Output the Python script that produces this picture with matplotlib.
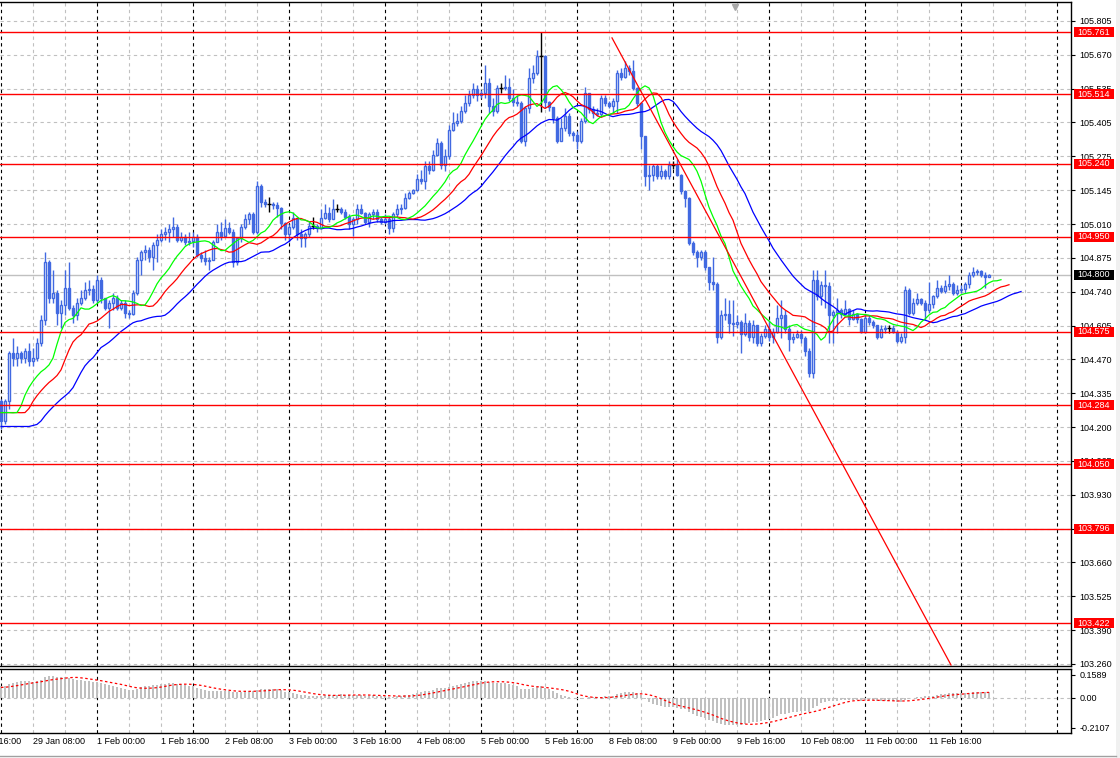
import numpy as np
import pandas as pd
import matplotlib
matplotlib.use('Agg')
import matplotlib.pyplot as plt
import matplotlib.transforms as mtransforms
from matplotlib.patches import Rectangle

plt.rcParams['font.family'] = ['Liberation Sans', 'DejaVu Sans']

# USDJPY H1, 29 Jan 00:00 - 12 Feb 07:00 (bar = 1 hour, weekend skipped)
first_open = 104.30
closes = [
    104.22, 104.30, 104.49, 104.47, 104.49, 104.47, 104.50, 104.46, 104.47, 104.53,
    104.62, 104.85, 104.71, 104.73, 104.65, 104.68, 104.75, 104.67, 104.64, 104.69,
    104.71, 104.74, 104.745, 104.70, 104.78, 104.71, 104.67, 104.69, 104.71, 104.67,
    104.69, 104.65, 104.645, 104.73, 104.86, 104.89, 104.90, 104.87, 104.92, 104.94,
    104.96, 104.97, 104.98, 104.99, 104.94, 104.95, 104.93, 104.935, 104.95, 104.88,
    104.865, 104.855, 104.86, 104.93, 104.97, 104.955, 104.985, 104.97, 104.85, 104.945,
    104.99, 105.02, 105.04, 104.97, 105.15, 105.09, 105.08, 105.08, 105.075, 105.065,
    105.005, 104.96, 104.99, 105.025, 104.96, 104.945, 104.96, 104.995, 104.995, 104.985,
    105.025, 105.045, 105.02, 105.06, 105.06, 105.05, 105.03, 105.00, 105.02, 105.06,
    105.045, 105.01, 105.04, 105.05, 105.02, 105.01, 105.02, 104.985, 105.04, 105.06,
    105.065, 105.105, 105.125, 105.135, 105.18, 105.17, 105.23, 105.215, 105.275, 105.32,
    105.235, 105.27, 105.375, 105.40, 105.41, 105.45, 105.48, 105.51, 105.535, 105.51,
    105.52, 105.56, 105.47, 105.45, 105.54, 105.54, 105.545, 105.50, 105.485, 105.48,
    105.33, 105.46, 105.58, 105.60, 105.665, 105.665, 105.485, 105.465, 105.42, 105.33,
    105.38, 105.43, 105.36, 105.355, 105.33, 105.41, 105.52, 105.455, 105.44, 105.435,
    105.50, 105.48, 105.47, 105.49, 105.60, 105.585, 105.62, 105.605, 105.54, 105.48,
    105.35, 105.19, 105.195, 105.23, 105.19, 105.21, 105.19, 105.235, 105.235, 105.195,
    105.13, 105.105, 104.925, 104.89, 104.87, 104.89, 104.83, 104.77, 104.765, 104.555,
    104.64, 104.645, 104.61, 104.605, 104.615, 104.565, 104.61, 104.555, 104.60, 104.53,
    104.56, 104.585, 104.555, 104.575, 104.63, 104.64, 104.585, 104.545, 104.555, 104.565,
    104.55, 104.50, 104.41, 104.78, 104.715, 104.76, 104.755, 104.64, 104.655, 104.66,
    104.645, 104.665, 104.625, 104.645, 104.625, 104.575, 104.63, 104.615, 104.60, 104.555,
    104.585, 104.59, 104.59, 104.575, 104.54, 104.555, 104.74, 104.65, 104.69, 104.705,
    104.69, 104.66, 104.685, 104.715, 104.75, 104.735, 104.755, 104.765, 104.73, 104.74,
    104.745, 104.765, 104.80, 104.81, 104.815, 104.80, 104.79, 104.80,
]
highs = [
    104.31, 104.31, 104.50, 104.55, 104.52, 104.50, 104.51, 104.53, 104.51, 104.55,
    104.64, 104.89, 104.86, 104.82, 104.74, 104.70, 104.82, 104.85, 104.68, 104.71,
    104.74, 104.77, 104.78, 104.76, 104.80, 104.79, 104.71, 104.70, 104.73, 104.72,
    104.70, 104.70, 104.66, 104.74, 104.87, 104.90, 104.92, 104.91, 104.93, 104.96,
    104.98, 104.99, 105.00, 105.03, 105.00, 104.97, 104.96, 104.97, 104.97, 104.96,
    104.89, 104.90, 104.87, 104.94, 105.00, 105.01, 105.02, 105.01, 104.98, 104.95,
    105.00, 105.04, 105.05, 105.05, 105.17, 105.16, 105.10, 105.11, 105.09, 105.09,
    105.07, 105.01, 105.00, 105.05, 105.03, 104.98, 104.97, 105.01, 105.03, 105.00,
    105.06, 105.08, 105.07, 105.10, 105.08, 105.07, 105.06, 105.04, 105.03, 105.08,
    105.08, 105.05, 105.05, 105.06, 105.06, 105.03, 105.04, 105.03, 105.05, 105.08,
    105.08, 105.125, 105.13, 105.14, 105.20, 105.215, 105.25, 105.25, 105.295, 105.34,
    105.33, 105.30, 105.395, 105.445, 105.44, 105.47, 105.51, 105.53, 105.56, 105.55,
    105.53, 105.63, 105.58, 105.50, 105.55, 105.56, 105.59, 105.58, 105.535, 105.51,
    105.49, 105.47, 105.62, 105.63, 105.69, 105.761, 105.67, 105.49, 105.46, 105.43,
    105.42, 105.46, 105.44, 105.37, 105.37, 105.42, 105.545, 105.52, 105.47, 105.46,
    105.51, 105.51, 105.49, 105.50, 105.61, 105.62, 105.645, 105.63, 105.65, 105.545,
    105.47, 105.35, 105.235, 105.24, 105.24, 105.235, 105.22, 105.25, 105.25, 105.26,
    105.20, 105.135, 105.11, 104.935, 104.90, 104.90, 104.90, 104.83, 104.87, 104.77,
    104.66, 104.71, 104.70, 104.70, 104.64, 104.62, 104.65, 104.62, 104.62, 104.60,
    104.57, 104.60, 104.62, 104.59, 104.68, 104.70, 104.66, 104.60, 104.57, 104.58,
    104.58, 104.56, 104.51, 104.82, 104.82, 104.775, 104.82, 104.77, 104.66, 104.71,
    104.67, 104.70, 104.67, 104.66, 104.65, 104.63, 104.64, 104.64, 104.62, 104.60,
    104.60, 104.60, 104.60, 104.60, 104.58, 104.57, 104.755, 104.75, 104.71, 104.73,
    104.71, 104.70, 104.77, 104.72, 104.78, 104.76, 104.78, 104.80, 104.77, 104.76,
    104.76, 104.77, 104.81, 104.83, 104.825, 104.82, 104.81, 104.805,
]
lows = [
    104.19, 104.21, 104.27, 104.44, 104.44, 104.45, 104.45, 104.44, 104.44, 104.46,
    104.52, 104.60, 104.69, 104.69, 104.60, 104.59, 104.64, 104.66, 104.61, 104.62,
    104.68, 104.70, 104.72, 104.69, 104.69, 104.69, 104.66, 104.59, 104.66, 104.66,
    104.66, 104.63, 104.63, 104.64, 104.72, 104.80, 104.86, 104.85, 104.82, 104.85,
    104.93, 104.94, 104.93, 104.95, 104.93, 104.93, 104.92, 104.92, 104.91, 104.87,
    104.85, 104.84, 104.82, 104.86, 104.93, 104.94, 104.95, 104.96, 104.83, 104.84,
    104.93, 104.98, 105.00, 104.96, 104.96, 105.07, 105.07, 105.05, 105.06, 105.03,
    104.98, 104.94, 104.93, 104.98, 104.94, 104.91, 104.91, 104.95, 104.98, 104.97,
    104.98, 105.02, 105.01, 105.02, 105.05, 105.04, 105.02, 104.98, 104.955, 105.00,
    105.04, 105.00, 104.99, 105.02, 105.01, 105.00, 105.00, 104.96, 104.97, 105.03,
    105.04, 105.06, 105.10, 105.12, 105.13, 105.16, 105.14, 105.20, 105.21, 105.27,
    105.22, 105.21, 105.26, 105.37, 105.39, 105.40, 105.44, 105.47, 105.50, 105.49,
    105.50, 105.50, 105.44, 105.43, 105.44, 105.52, 105.53, 105.49, 105.47, 105.47,
    105.32, 105.31, 105.44, 105.56, 105.59, 105.445, 105.46, 105.45, 105.40, 105.32,
    105.33, 105.37, 105.35, 105.33, 105.30, 105.32, 105.40, 105.44, 105.42, 105.43,
    105.43, 105.47, 105.46, 105.44, 105.44, 105.57, 105.58, 105.59, 105.53, 105.47,
    105.30, 105.15, 105.135, 105.17, 105.18, 105.18, 105.18, 105.18, 105.22, 105.19,
    105.12, 105.07, 104.92, 104.88, 104.83, 104.86, 104.82, 104.74, 104.74, 104.53,
    104.545, 104.62, 104.57, 104.56, 104.59, 104.49, 104.56, 104.54, 104.53, 104.52,
    104.52, 104.55, 104.54, 104.53, 104.57, 104.55, 104.57, 104.50, 104.53, 104.55,
    104.53, 104.48, 104.395, 104.39, 104.70, 104.68, 104.67, 104.53, 104.53, 104.57,
    104.63, 104.64, 104.60, 104.62, 104.61, 104.57, 104.57, 104.60, 104.59, 104.545,
    104.55, 104.57, 104.57, 104.57, 104.53, 104.53, 104.53, 104.64, 104.64, 104.68,
    104.68, 104.62, 104.65, 104.67, 104.71, 104.73, 104.73, 104.74, 104.72, 104.72,
    104.73, 104.73, 104.75, 104.79, 104.80, 104.79, 104.75, 104.795,
]

levels = [105.761, 105.514, 105.240, 104.950, 104.575, 104.284, 104.050, 103.796, 103.422]
bid = 104.800

price_ticks = ['105.805', '105.670', '105.535', '105.405', '105.275', '105.145', '105.010',
               '104.875', '104.740', '104.605', '104.470', '104.335', '104.200', '104.065',
               '103.930', '103.795', '103.660', '103.525', '103.390', '103.260']
osc_ticks = [0.1589, 0.0, -0.2107]
osc_tick_labels = ['0.1589', '0.00', '-0.2107']

time_labels = ['28 Jan 16:00', '29 Jan 08:00', '1 Feb 00:00', '1 Feb 16:00', '2 Feb 08:00',
               '3 Feb 00:00', '3 Feb 16:00', '4 Feb 08:00', '5 Feb 00:00', '5 Feb 16:00',
               '8 Feb 08:00', '9 Feb 00:00', '9 Feb 16:00', '10 Feb 08:00', '11 Feb 00:00',
               '11 Feb 16:00']

# trend line anchors (bar index, price)
trend_x = [152.75, 237.5]
trend_y = [105.738, 103.256]

# alligator: period, shift, value before first visible bar
jaw = (13, 8, 104.200)
teeth = (8, 5, 104.255)
lips = (5, 3, 104.255)
# MACD 12/26/9 state before first bar
ema_fast_seed, ema_slow_seed, signal_seed = 104.23, 104.14, 0.07

closes = np.array(closes)
highs = np.array(highs)
lows = np.array(lows)
n = len(closes)
x = np.arange(n)
opens = np.r_[first_open, closes[:-1]]
highs = np.maximum(highs, np.maximum(opens, closes))
lows = np.minimum(lows, np.minimum(opens, closes))
median = (highs + lows) / 2


def smma(vals, period, seed):
    out = []
    s = seed
    for v in vals:
        s = (s * (period - 1) + v) / period
        out.append(s)
    return np.array(out)


def ema(vals, period, seed):
    a = 2.0 / (period + 1)
    out = []
    s = seed
    for v in vals:
        s = s + a * (v - s)
        out.append(s)
    return np.array(out)


macd = ema(closes, 12, ema_fast_seed) - ema(closes, 26, ema_slow_seed)
signal = pd.Series(np.r_[[signal_seed] * 8, macd]).rolling(9).mean().values[8:]

W, H = 1120, 758
BLUE = '#4169e1'
GRID = '#c0c0c0'


def px_rect(x0, y0, x1, y1):
    return [x0 / W, 1 - y1 / H, (x1 - x0) / W, (y1 - y0) / H]


fig = plt.figure(figsize=(W / 100, H / 100), dpi=100)
fig.patch.set_facecolor('white')
ax = fig.add_axes(px_rect(0, 2, 1071, 666))
axo = fig.add_axes(px_rect(0, 669, 1071, 733))

for a in (ax, axo):
    a.set_xlim(-0.25, 267.5)
    a.spines['left'].set_visible(False)
    for s in ('top', 'bottom', 'right'):
        a.spines[s].set_linewidth(1.0)
        a.spines[s].set_color('black')
    a.tick_params(axis='x', bottom=False, labelbottom=False)
    a.yaxis.tick_right()
    a.tick_params(axis='y', direction='out', length=3, width=0.8, pad=3, labelsize=6.5,
                  colors='black')
    # grid every 8 bars, day separators every 24 bars
    for g in range(8, 265, 8):
        if g % 24:
            a.axvline(g, color=GRID, lw=0.8, ls=(0, (3, 3)), zorder=0.5)
    for g in range(0, 265, 24):
        a.axvline(g, color='black', lw=0.8, ls=(0, (3, 3)), zorder=0.6)

ax.set_ylim(103.252, 105.880)
yt = np.linspace(105.805, 103.260, len(price_ticks))
ax.set_yticks(yt)
ax.set_yticklabels(price_ticks)
for t in yt:
    ax.axhline(t, color=GRID, lw=0.8, ls=(0, (3, 3)), zorder=0.5)

# candles
up = closes > opens + 1e-9
dn = closes < opens - 1e-9
dj = ~(up | dn)
ax.vlines(x[~dj], lows[~dj], highs[~dj], color=BLUE, lw=1.0, zorder=3)
ax.bar(x[up], (closes - opens)[up], bottom=opens[up], width=0.7, facecolor='white',
       edgecolor=BLUE, linewidth=1.0, zorder=4)
ax.bar(x[dn], (closes - opens)[dn], bottom=opens[dn], width=0.7, facecolor=BLUE,
       edgecolor=BLUE, linewidth=1.0, zorder=4)
ax.vlines(x[dj], lows[dj], highs[dj], color='black', lw=1.0, zorder=4)
ax.hlines(closes[dj], x[dj] - 0.45, x[dj] + 0.45, color='black', lw=1.0, zorder=4)

# alligator
for (period, shift, seed), col in ((jaw, '#0000ff'), (teeth, '#ff0000'), (lips, '#00ff00')):
    vals = np.r_[[seed] * shift, smma(median, period, seed)]
    ax.plot(np.arange(len(vals)), vals, color=col, lw=0.9, zorder=5)

# bid line, levels, trend line
ax.axhline(bid, color='#c0c0c0', lw=1.0, zorder=1)
for lv in levels:
    ax.axhline(lv, color='#ff0000', lw=1.0, zorder=6)
ax.plot(trend_x, trend_y, color='#ff0000', lw=0.9, zorder=6)

# price labels on the axis
bt = mtransforms.blended_transform_factory(ax.transAxes, ax.transData)
bw = 40 / 1071
bh = 10 / 252.66
for lv, fc in [(v, '#ff0000') for v in levels] + [(bid, 'black')]:
    ax.add_patch(Rectangle((1074 / 1071, lv - bh / 2), bw, bh, transform=bt,
                           facecolor=fc, edgecolor='none', clip_on=False, zorder=7))
    ax.text(1074 / 1071 + bw / 2, lv, '%.3f' % lv, transform=bt, color='white',
            fontsize=6.5, ha='center', va='center', clip_on=False, zorder=8)

# chart shift marker
ax.plot([183.5], [0.992], marker='v', ms=4, color='#a8a8a8',
        transform=mtransforms.blended_transform_factory(ax.transData, ax.transAxes),
        clip_on=False, zorder=8)

# MACD window
axo.set_ylim(-0.2494, 0.2011)
axo.set_yticks(osc_ticks)
axo.set_yticklabels(osc_tick_labels)
axo.axhline(0, color=GRID, lw=0.8, ls=(0, (3, 3)), zorder=0.5)
axo.bar(x, macd, width=0.35, color='#c0c0c0', zorder=2)
axo.plot(x, signal, color='#ff0000', lw=0.9, ls=(0, (2, 2)), zorder=3)

ot = mtransforms.blended_transform_factory(axo.transData, axo.transAxes)
for k, lab in enumerate(time_labels):
    axo.text(-8 + 16 * k, -0.14, lab, transform=ot, ha='left', va='center',
             fontsize=6.5, clip_on=False)

# window frame
fig.patches.append(Rectangle((1116 / W, 0), 4 / W, 1, transform=fig.transFigure,
                             facecolor='#f0f0f0', edgecolor='none'))
fig.lines.append(plt.Line2D([0, 1116 / W], [1 - 756 / H] * 2, transform=fig.transFigure,
                            color='#a0a0a0', lw=1))

fig.savefig('out.png', dpi=100)
